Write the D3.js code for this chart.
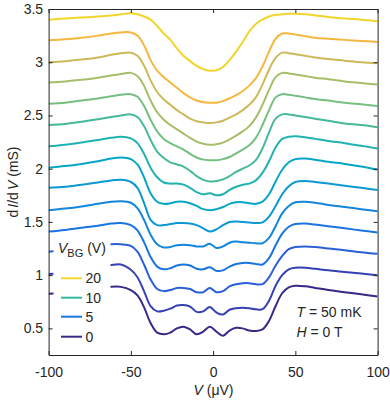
<!DOCTYPE html>
<html><head><meta charset="utf-8">
<script src="https://cdn.jsdelivr.net/npm/d3@7"></script>
<style>
body{margin:0;background:#fff}
svg{display:block}
text{font-family:"Liberation Sans",Arial,Helvetica,sans-serif;fill:#262626}
</style>
</head><body>
<svg id="chart" width="390" height="400"></svg>
<script>
// ---------------- data ----------------
const biasV = [-100,-90,-80,-70,-62,-56,-50,-46,-42,-38,-34,-30,-26,-22,-18,-14,-10,-6,-2,2,6,10,14,18,22,26,30,34,38,42,46,50,56,62,70,80,90,100];
const offsetStep = 0.2; // curves shifted by 0.2 mS each
// base dI/dV (mS), bottom curve first
const g00 = [0.825,0.835,0.85,0.87,0.89,0.89,0.86,0.81,0.70,0.55,0.46,0.445,0.46,0.50,0.515,0.49,0.445,0.47,0.515,0.47,0.43,0.48,0.505,0.50,0.48,0.475,0.49,0.57,0.71,0.83,0.885,0.90,0.895,0.88,0.86,0.84,0.82,0.80];
const g01 = [0.81,0.825,0.845,0.87,0.895,0.90,0.85,0.78,0.65,0.51,0.46,0.465,0.485,0.515,0.52,0.505,0.455,0.46,0.50,0.45,0.43,0.475,0.49,0.495,0.49,0.48,0.48,0.56,0.70,0.80,0.855,0.87,0.87,0.86,0.845,0.83,0.815,0.80];
const g02 = [0.82,0.835,0.85,0.87,0.89,0.89,0.875,0.82,0.70,0.56,0.47,0.45,0.46,0.48,0.48,0.47,0.44,0.44,0.48,0.44,0.45,0.495,0.515,0.525,0.525,0.515,0.515,0.58,0.69,0.78,0.845,0.865,0.87,0.865,0.85,0.835,0.815,0.80];
const g03 = [0.81,0.825,0.845,0.865,0.885,0.89,0.87,0.82,0.71,0.57,0.48,0.455,0.465,0.49,0.50,0.49,0.46,0.455,0.475,0.44,0.445,0.48,0.505,0.515,0.515,0.505,0.50,0.56,0.68,0.79,0.855,0.88,0.885,0.875,0.86,0.84,0.82,0.80];
const g04 = [0.81,0.825,0.845,0.87,0.89,0.895,0.88,0.83,0.72,0.58,0.49,0.46,0.465,0.48,0.485,0.48,0.47,0.47,0.495,0.455,0.47,0.505,0.515,0.51,0.505,0.50,0.50,0.55,0.66,0.78,0.85,0.885,0.89,0.88,0.86,0.84,0.82,0.80];
const g05 = [0.82,0.83,0.85,0.87,0.89,0.895,0.875,0.82,0.68,0.52,0.47,0.47,0.48,0.49,0.49,0.485,0.47,0.44,0.41,0.43,0.47,0.50,0.505,0.50,0.495,0.49,0.495,0.55,0.65,0.76,0.835,0.875,0.885,0.875,0.86,0.84,0.82,0.80];
const g06 = [0.81,0.825,0.845,0.87,0.895,0.905,0.89,0.84,0.72,0.57,0.49,0.47,0.475,0.49,0.49,0.475,0.45,0.42,0.41,0.42,0.44,0.47,0.485,0.485,0.475,0.47,0.49,0.56,0.68,0.79,0.86,0.89,0.895,0.885,0.865,0.845,0.82,0.79];
const g07 = [0.81,0.825,0.845,0.87,0.89,0.90,0.885,0.84,0.74,0.61,0.52,0.47,0.46,0.46,0.45,0.42,0.38,0.36,0.37,0.35,0.36,0.40,0.43,0.45,0.46,0.49,0.56,0.67,0.80,0.88,0.90,0.905,0.895,0.88,0.86,0.84,0.815,0.79];
const g08 = [0.81,0.82,0.84,0.865,0.885,0.90,0.91,0.885,0.80,0.67,0.56,0.50,0.46,0.44,0.42,0.38,0.33,0.295,0.28,0.285,0.30,0.33,0.37,0.40,0.43,0.48,0.59,0.74,0.87,0.91,0.91,0.90,0.885,0.87,0.85,0.825,0.81,0.79];
const g09 = [0.81,0.82,0.84,0.86,0.88,0.895,0.90,0.875,0.79,0.66,0.55,0.48,0.44,0.41,0.38,0.34,0.305,0.285,0.28,0.28,0.29,0.31,0.345,0.38,0.42,0.49,0.61,0.75,0.87,0.90,0.895,0.885,0.87,0.855,0.84,0.82,0.805,0.79];
const g10 = [0.81,0.82,0.835,0.855,0.875,0.89,0.90,0.87,0.78,0.64,0.53,0.46,0.41,0.37,0.33,0.29,0.255,0.235,0.225,0.23,0.245,0.275,0.31,0.35,0.40,0.48,0.60,0.74,0.86,0.90,0.895,0.885,0.87,0.855,0.84,0.82,0.805,0.79];
const g11 = [0.80,0.81,0.825,0.845,0.87,0.885,0.89,0.86,0.77,0.63,0.52,0.45,0.40,0.35,0.31,0.27,0.245,0.235,0.23,0.235,0.25,0.28,0.31,0.35,0.40,0.47,0.59,0.73,0.84,0.89,0.885,0.875,0.86,0.845,0.83,0.815,0.80,0.79];
const g12 = [0.806,0.815,0.83,0.85,0.87,0.88,0.88,0.85,0.76,0.62,0.52,0.46,0.41,0.36,0.31,0.27,0.24,0.225,0.22,0.22,0.235,0.26,0.29,0.33,0.38,0.45,0.56,0.70,0.82,0.87,0.87,0.86,0.845,0.83,0.82,0.81,0.80,0.79];
const g13 = [0.80,0.81,0.82,0.83,0.84,0.85,0.86,0.85,0.83,0.80,0.74,0.67,0.61,0.53,0.46,0.41,0.365,0.335,0.32,0.325,0.355,0.42,0.50,0.59,0.69,0.76,0.80,0.83,0.845,0.85,0.855,0.855,0.85,0.84,0.825,0.81,0.80,0.785];
const curves = [g00,g01,g02,g03,g04,g05,g06,g07,g08,g09,g10,g11,g12,g13];

const legendVbg = ["20","10","5","0"];
const xTicks = [-100,-50,0,50,100];
const yTicks = [0.5,1,1.5,2,2.5,3,3.5];

// ---------------- styles ----------------
const curveColors = ["#352a87","#3540b4","#2a5fd8","#1a74e0","#1386db","#0b98d3","#07a6c6","#1fb2b0","#45b99a","#75bf80","#a6be6a","#cdb95a","#f5b83e","#f2d52a"];
const legendColors = ["#f2d52a","#30b8a2","#1a79e0","#352a87"];

// ---------------- chart ----------------
const svg = d3.select("#chart");
const L = 48.6, R = 377.6, T = 9, B = 355;
const x = d3.scaleLinear().domain([-100,100]).range([L,R]);
const y = d3.scaleLinear().domain([0.25,3.5]).range([B,T]);

const line = d3.line()
  .x(d => x(d[0]))
  .y(d => y(d[1]))
  .curve(d3.curveCatmullRom.alpha(0.5));

const plot = svg.append("g");
plot.append("defs").append("clipPath").attr("id","clip")
  .append("rect").attr("x",L).attr("y",T).attr("width",R-L).attr("height",B-T);

const cg = plot.append("g").attr("clip-path","url(#clip)");
curves.forEach((g,i) => {
  const pts = biasV.map((v,k) => [v, g[k] + i*offsetStep]);
  cg.append("path").attr("d", line(pts))
    .attr("fill","none").attr("stroke",curveColors[i])
    .attr("stroke-width",2).attr("stroke-linejoin","round").attr("stroke-linecap","butt");
});

// legend background (covers curves)
const lg = svg.append("g");
lg.append("rect").attr("x",53.5).attr("y",237).attr("width",57).attr("height",110).attr("fill","#fff");
const title = lg.append("text").attr("x",58).attr("y",253).attr("font-size",14);
title.append("tspan").attr("font-style","italic").text("V");
title.append("tspan").attr("font-size",11).attr("dy",4).text("BG");
title.append("tspan").attr("dy",-4).text(" (V)");
const legY = [278.3,297.7,316.7,336.7];
legendVbg.forEach((t,k) => {
  lg.append("line").attr("x1",61).attr("x2",82).attr("y1",legY[k]).attr("y2",legY[k])
    .attr("stroke",legendColors[k]).attr("stroke-width",2);
  lg.append("text").attr("x",85.5).attr("y",legY[k]+5).attr("font-size",14).text(t);
});

// axes
const axCol = "#262626";
const bx = svg.append("g").attr("transform",`translate(0,${B})`)
  .call(d3.axisBottom(x).tickValues(xTicks).tickSizeInner(-4).tickSizeOuter(0).tickPadding(11.8));
const tx = svg.append("g").attr("transform",`translate(0,${T})`)
  .call(d3.axisTop(x).tickValues(xTicks).tickSizeInner(-4).tickSizeOuter(0).tickFormat(""));
const ly = svg.append("g").attr("transform",`translate(${L},0)`)
  .call(d3.axisLeft(y).tickValues(yTicks).tickSizeInner(-4).tickSizeOuter(0).tickPadding(5.5).tickFormat(d3.format("")));
const ry = svg.append("g").attr("transform",`translate(${R},0)`)
  .call(d3.axisRight(y).tickValues(yTicks).tickSizeInner(-4).tickSizeOuter(0).tickFormat(""));
[bx,tx,ly,ry].forEach(a => {
  a.selectAll("path,line").attr("stroke",axCol).attr("stroke-width",1);
  a.selectAll("text").attr("font-size",14).attr("font-family","Liberation Sans, Arial, sans-serif").attr("fill",axCol);
});
bx.selectAll(".tick text").text(d => d < 0 ? "-" + Math.abs(d) : d);

// axis labels
const xl = svg.append("text").attr("x",213.5).attr("y",395).attr("text-anchor","middle").attr("font-size",14);
xl.append("tspan").attr("font-style","italic").text("V");
xl.append("tspan").text(" (\u03BCV)");

const yl = svg.append("text").attr("transform","translate(18,182) rotate(-90)").attr("text-anchor","middle").attr("font-size",14);
yl.append("tspan").text("d");
yl.append("tspan").attr("font-style","italic").attr("dx",2).text("I");
yl.append("tspan").text("/d");
yl.append("tspan").attr("font-style","italic").attr("dx",2).text("V");
yl.append("tspan").text(" (mS)");

// annotations
const a1 = svg.append("text").attr("x",296.5).attr("y",317).attr("font-size",14);
a1.append("tspan").attr("font-style","italic").text("T");
a1.append("tspan").text(" = 50 mK");
const a2 = svg.append("text").attr("x",296.5).attr("y",337).attr("font-size",14);
a2.append("tspan").attr("font-style","italic").text("H");
a2.append("tspan").text(" = 0 T");
</script>
</body></html>
